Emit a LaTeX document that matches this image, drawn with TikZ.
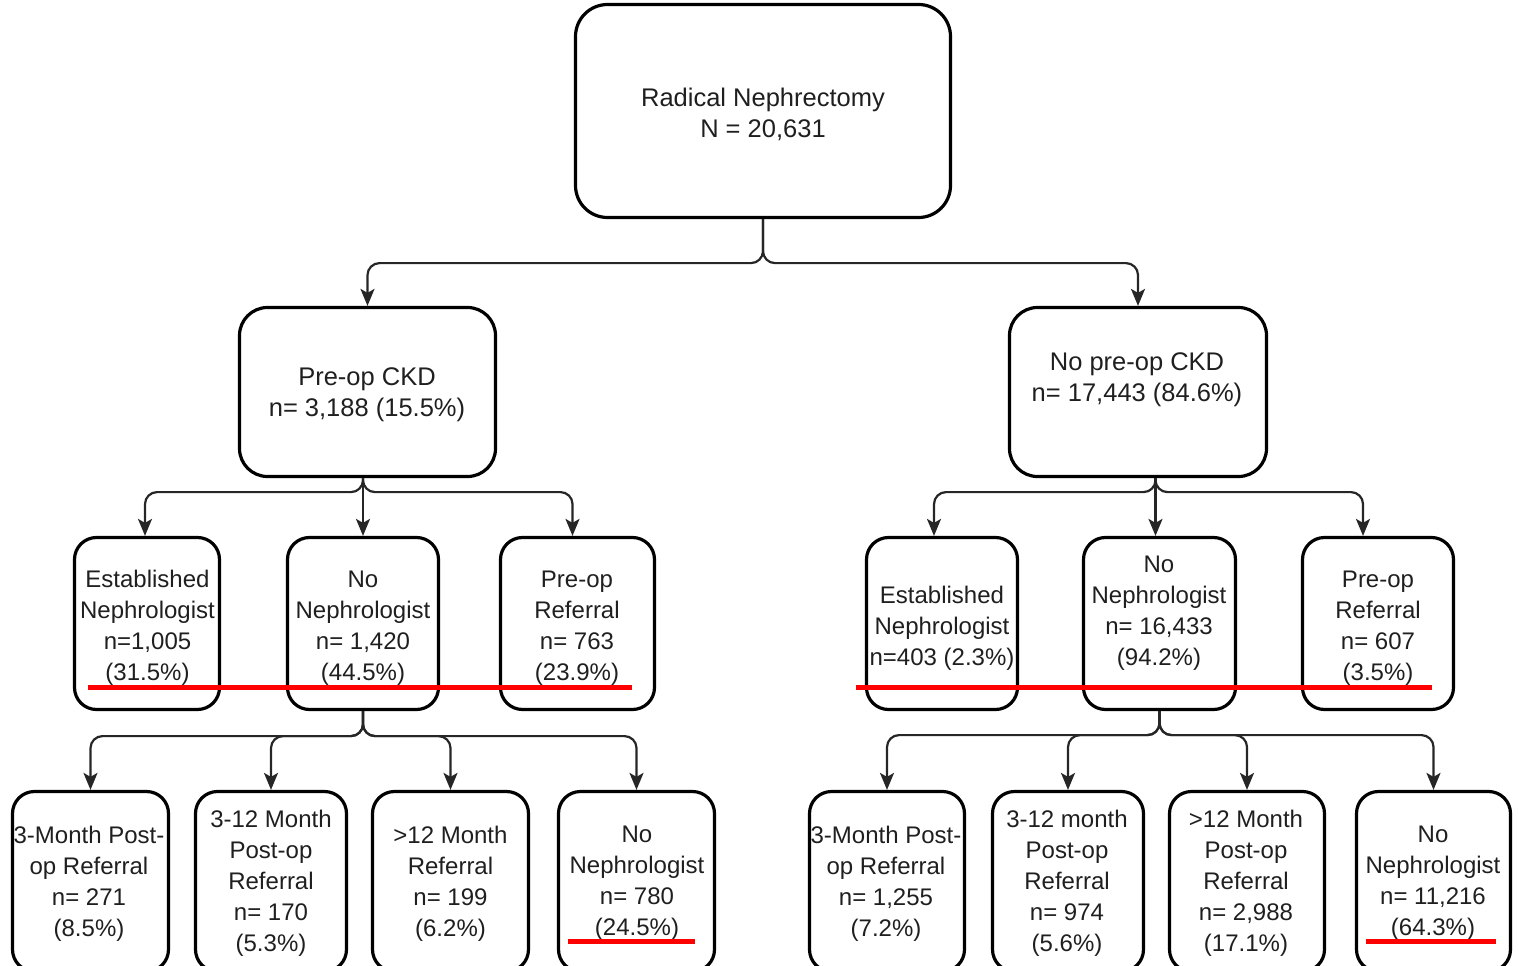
\documentclass[tikz,border=0pt]{standalone}
\usepackage{fontspec}
\setmainfont{Liberation Sans}
\usetikzlibrary{arrows.meta,calc}
\begin{document}
\begin{tikzpicture}[x=1pt,y=-1pt,
 box/.style={draw=black, line width=3.2pt, rounded corners=22pt, inner sep=0pt},
 conn/.style={draw=black!85, line width=2.2pt, rounded corners=12pt, -{Stealth[length=17pt,width=14pt,inset=4pt]}},
 lbl/.style={align=center, inner sep=0pt, text=black!88, font=\fontsize{24}{31}\selectfont},
 lblbig/.style={lbl, font=\fontsize{25.5}{31}\selectfont},
 redline/.style={draw=red, line width=5pt}]
\useasboundingbox (0,0) rectangle (1519,966);
% boxes
\node[box, rounded corners=32pt, minimum width=375pt, minimum height=213pt] (root) at (763,111) {};
\node[box, rounded corners=28pt, minimum width=256pt, minimum height=169pt] (pre) at (367.5,392) {};
\node[box, rounded corners=28pt, minimum width=257pt, minimum height=169pt] (npre) at (1138,392) {};
\node[box, minimum width=145pt, minimum height=172pt] (a1) at (147,623.5) {};
\node[box, minimum width=151pt, minimum height=172pt] (a2) at (363,623.5) {};
\node[box, minimum width=154pt, minimum height=172pt] (a3) at (577.5,623.5) {};
\node[box, minimum width=151pt, minimum height=172pt] (b1) at (942,623.5) {};
\node[box, minimum width=152pt, minimum height=172pt] (b2) at (1159.5,623.5) {};
\node[box, minimum width=151pt, minimum height=172pt] (b3) at (1378,623.5) {};
\node[box, minimum width=156pt, minimum height=180pt] (c1) at (90.5,881.5) {};
\node[box, minimum width=151pt, minimum height=180pt] (c2) at (271,881.5) {};
\node[box, minimum width=156pt, minimum height=180pt] (c3) at (450.5,881.5) {};
\node[box, minimum width=156pt, minimum height=180pt] (c4) at (636.5,881.5) {};
\node[box, minimum width=155pt, minimum height=180pt] (d1) at (887,881.5) {};
\node[box, minimum width=151pt, minimum height=180pt] (d2) at (1068,881.5) {};
\node[box, minimum width=155pt, minimum height=180pt] (d3) at (1247,881.5) {};
\node[box, minimum width=154pt, minimum height=180pt] (d4) at (1433.5,881.5) {};
% texts
\node[lblbig] (troot) at (763,114) {Radical Nephrectomy\\N = 20,631};
\node[lblbig] (tpre) at (367,395) {Pre-op CKD\\n= 3,188 (15.5\%)};
\node[lblbig] (tnpre) at (1137,380) {No pre-op CKD\\n= 17,443 (84.6\%)};
\node[lbl] (ta1) at (147.5,628) {Established\\Nephrologist\\n=1,005\\(31.5\%)};
\node[lbl] (ta2) at (363,628) {No\\Nephrologist\\n= 1,420\\(44.5\%)};
\node[lbl] (ta3) at (577,628) {Pre-op\\Referral\\n= 763\\(23.9\%)};
\node[lbl] (tb1) at (942,628) {Established\\Nephrologist\\n=403 (2.3\%)};
\node[lbl] (tb2) at (1159,613) {No\\Nephrologist\\n= 16,433\\(94.2\%)};
\node[lbl] (tb3) at (1378,628) {Pre-op\\Referral\\n= 607\\(3.5\%)};
\node[lbl] (tc1) at (89,883.5) {3-Month Post-\\op Referral\\n= 271\\(8.5\%)};
\node[lbl] (tc2) at (271,883.5) {3-12 Month\\Post-op\\Referral\\n= 170\\(5.3\%)};
\node[lbl] (tc3) at (450.5,883.5) {>12 Month\\Referral\\n= 199\\(6.2\%)};
\node[lbl] (tc4) at (637,883.5) {No\\Nephrologist\\n= 780\\(24.5\%)};
\node[lbl] (td1) at (886,883.5) {3-Month Post-\\op Referral\\n= 1,255\\(7.2\%)};
\node[lbl] (td2) at (1067,883.5) {3-12 month\\Post-op\\Referral\\n= 974\\(5.6\%)};
\node[lbl] (td3) at (1246,883.5) {>12 Month\\Post-op\\Referral\\n= 2,988\\(17.1\%)};
\node[lbl] (td4) at (1433,883.5) {No\\Nephrologist\\n= 11,216\\(64.3\%)};
% connectors
\coordinate (j0) at ($(root.south)+(0,44)$);
\draw[conn] (root.south) -- (j0) -| (pre.north);
\draw[conn] (root.south) -- (j0) -| (npre.north);
\coordinate (s1) at (a2.north |- pre.south);
\coordinate (j1) at ($(s1)+(0,14)$);
\draw[conn] (s1) -- (j1) -| ($(a1.north)+(-2,0)$);
\draw[conn] (s1) -- (a2.north);
\draw[conn] (s1) -- (j1) -| ($(a3.north)+(-5,0)$);
\coordinate (s2) at ($(b2.north |- npre.south)+(-4,0)$);
\coordinate (j2) at ($(s2)+(0,14)$);
\draw[conn] (s2) -- (j2) -| ($(b1.north)+(-8,0)$);
\draw[conn] (s2) -- ($(b2.north)+(-4,0)$);
\draw[conn] (s2) -- (j2) -| ($(b3.north)+(-15,0)$);
\coordinate (j3) at ($(a2.south)+(0,25)$);
\draw[conn] (a2.south) -- (j3) -| (c1.north);
\draw[conn] (a2.south) -- (j3) -| (c2.north);
\draw[conn] (a2.south) -- (j3) -| (c3.north);
\draw[conn] (a2.south) -- (j3) -| (c4.north);
\coordinate (j4) at ($(b2.south)+(0,24)$);
\draw[conn] (b2.south) -- (j4) -| (d1.north);
\draw[conn] (b2.south) -- (j4) -| (d2.north);
\draw[conn] (b2.south) -- (j4) -| (d3.north);
\draw[conn] (b2.south) -- (j4) -| (d4.north);
% red underlines
\draw[redline] (88,687) -- (632,687);
\draw[redline] (856,687) -- (1432,687);
\draw[redline] (568,941) -- (695,941);
\draw[redline] (1366,941) -- (1496,941);
\end{tikzpicture}
\end{document}
